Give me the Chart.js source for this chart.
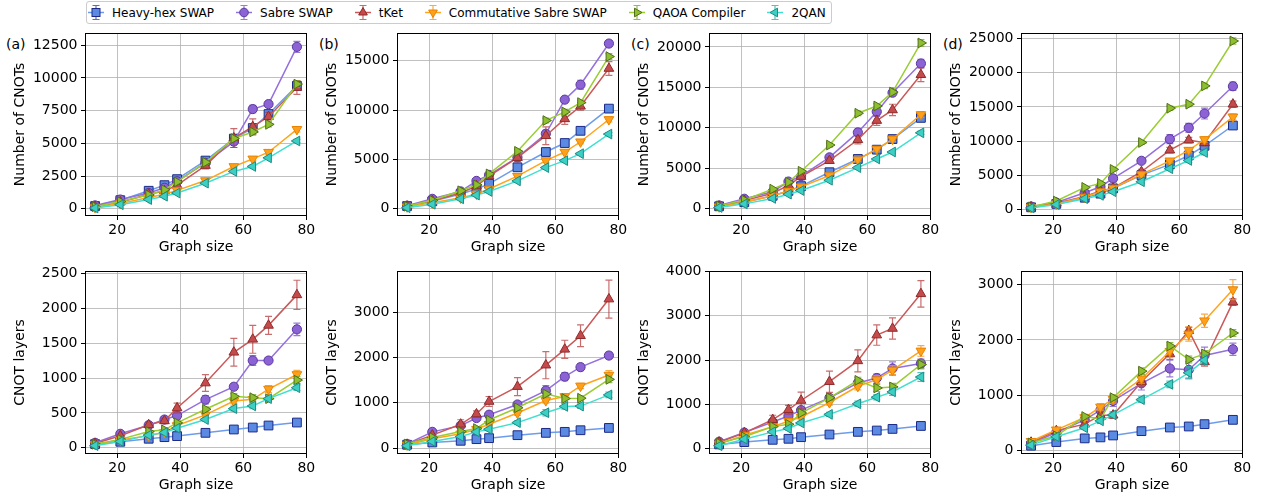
<!DOCTYPE html>
<html>
<head>
<meta charset="utf-8">
<script src="https://cdn.jsdelivr.net/npm/chart.js@4.4.1/dist/chart.umd.min.js"></script>
<style>
  body { margin: 0; background: #fff; width: 1268px; height: 503px; overflow: hidden; position: relative;
         font-family: "DejaVu Sans", sans-serif; color: #000; }
  .panel { position: absolute; width: 323px; height: 240px; }
  .tag { position: absolute; font-size: 14px; line-height: 14px; }
  #legend { position: absolute; left: 86px; top: 1px; height: 23px; box-sizing: border-box;
            border: 1px solid #cccccc; border-radius: 3px; background: #fff;
            display: flex; align-items: center; padding: 0 5px 0 1px; font-size: 12px; white-space: nowrap; }
  .item { display: flex; align-items: center; margin-right: 22px; }
  .item:last-child { margin-right: 0; }
  .item svg { margin-right: 8px; }
</style>
</head>
<body>
<div id="legend"></div>

<div class="tag" style="left:6px;top:37px">(a)</div>
<div class="tag" style="left:319px;top:37px">(b)</div>
<div class="tag" style="left:631px;top:37px">(c)</div>
<div class="tag" style="left:943px;top:37px">(d)</div>

<div class="panel" style="left:0px;top:21px"><canvas id="cA" width="323" height="240"></canvas></div>
<div class="panel" style="left:312px;top:21px"><canvas id="cB" width="323" height="240"></canvas></div>
<div class="panel" style="left:624px;top:21px"><canvas id="cC" width="323" height="240"></canvas></div>
<div class="panel" style="left:936px;top:21px"><canvas id="cD" width="323" height="240"></canvas></div>
<div class="panel" style="left:0px;top:259px"><canvas id="lA" width="323" height="240"></canvas></div>
<div class="panel" style="left:312px;top:259px"><canvas id="lB" width="323" height="240"></canvas></div>
<div class="panel" style="left:624px;top:259px"><canvas id="lC" width="323" height="240"></canvas></div>
<div class="panel" style="left:936px;top:259px"><canvas id="lD" width="323" height="240"></canvas></div>

<script>
// ── DATA ───────────────────────────────────────────────────────────────────
// series order: Heavy-hex SWAP, Sabre SWAP, tKet, Commutative Sabre SWAP, QAOA Compiler, 2QAN

const GRAPH_SIZES = [13, 21, 30, 35, 39, 48, 57, 63, 68, 77];
const X_TICKS = [20, 40, 60, 80];

const cnotsA = [
  [200, 650, 1370, 1800, 2260, 3680, 5360, 6170, 7240, 9400],
  [250, 700, 1200, 1600, 2100, 3500, 5130, 7620, 8000, 12380],
  [150, 500, 1100, 1350, 1800, 3300, 5400, 6270, 7040, 9270],
  [100, 400, 850, 1100, 1400, 2150, 3230, 3810, 4320, 6070],
  [150, 550, 1050, 1450, 2050, 3550, 5360, 5870, 6450, 9530],
  [50, 300, 700, 950, 1200, 1950, 2850, 3230, 3890, 5180],
];
const cnotsAErr = [
  [30, 60, 90, 110, 120, 160, 200, 220, 250, 300],
  [40, 80, 120, 150, 180, 220, 450, 280, 220, 420],
  [40, 80, 130, 160, 200, 250, 720, 600, 330, 520],
  [20, 40, 60, 70, 80, 100, 120, 130, 150, 200],
  [30, 50, 80, 100, 120, 160, 200, 220, 200, 250],
  [10, 30, 50, 60, 70, 90, 100, 110, 120, 120],
];

const cnotsB = [
  [270, 750, 1500, 2000, 2520, 4200, 5750, 6660, 7900, 10150],
  [300, 1000, 1750, 2820, 3430, 5210, 7600, 11060, 12580, 16750],
  [250, 800, 1600, 2300, 3300, 5180, 7400, 9110, 10390, 14220],
  [200, 600, 1100, 1500, 2000, 3300, 4880, 5750, 6790, 9050],
  [250, 850, 1820, 2420, 3530, 5820, 8940, 9820, 10760, 15430],
  [100, 450, 1000, 1380, 1750, 2820, 4170, 4880, 5580, 7570],
];
const cnotsBErr = [
  [30, 60, 100, 120, 150, 200, 250, 250, 250, 300],
  [40, 80, 150, 220, 200, 250, 350, 300, 450, 300],
  [40, 80, 150, 200, 250, 400, 900, 550, 400, 700],
  [20, 40, 60, 80, 100, 150, 200, 200, 200, 250],
  [30, 60, 100, 120, 150, 200, 250, 250, 250, 300],
  [10, 30, 50, 60, 80, 100, 120, 120, 120, 150],
];

const cnotsC = [
  [300, 800, 1600, 2200, 2790, 4510, 6150, 7300, 8610, 11230],
  [400, 1230, 2100, 3360, 4020, 6350, 9430, 12000, 14340, 17950],
  [300, 1000, 1900, 2900, 3980, 5940, 8520, 10900, 12210, 16560],
  [250, 800, 1600, 2200, 2700, 4100, 6060, 7380, 8610, 11640],
  [350, 1070, 2420, 3280, 4630, 7870, 11800, 12700, 14420, 20490],
  [150, 600, 1270, 1800, 2250, 3520, 5080, 6150, 7010, 9380],
];
const cnotsCErr = [
  [40, 80, 120, 150, 180, 250, 300, 300, 350, 400],
  [50, 100, 180, 220, 250, 300, 400, 600, 400, 500],
  [50, 100, 180, 250, 300, 350, 500, 600, 700, 850],
  [30, 60, 100, 130, 150, 200, 250, 250, 300, 350],
  [40, 80, 120, 150, 180, 250, 300, 300, 350, 400],
  [20, 40, 70, 80, 100, 130, 150, 150, 180, 200],
];

const cnotsD = [
  [300, 800, 1700, 2300, 3070, 5020, 6580, 7890, 9310, 12280],
  [400, 1000, 2440, 3310, 4530, 7110, 10280, 11940, 14030, 18030],
  [350, 900, 1900, 2700, 3100, 5510, 8670, 10140, 9750, 15400],
  [300, 800, 1800, 2600, 3120, 5120, 7110, 8670, 10230, 13550],
  [350, 1220, 3220, 3800, 5850, 9790, 14810, 15400, 18080, 24660],
  [200, 700, 1560, 2050, 2580, 4040, 5950, 7160, 8330, null],
];
const cnotsDErr = [
  [40, 80, 130, 160, 200, 250, 300, 350, 400, 450],
  [50, 100, 200, 250, 300, 350, 650, 650, 800, 600],
  [50, 100, 200, 250, 300, 350, 400, 400, 450, 450],
  [40, 80, 130, 160, 200, 250, 300, 350, 400, 450],
  [40, 80, 130, 160, 200, 250, 300, 350, 400, 450],
  [30, 60, 100, 120, 150, 200, 250, 300, 350, null],
];

const layersA = [
  [52, 86, 129, 152, 167, 214, 262, 290, 319, 362],
  [71, 200, 324, 405, 462, 690, 876, 1252, 1252, 1700],
  [60, 171, 329, 386, 571, 929, 1371, 1557, 1757, 2195],
  [50, 110, 171, 220, 319, 471, 671, 695, 843, 1052],
  [50, 120, 233, 257, 357, 552, 738, 719, 705, 971],
  [30, 90, 181, 219, 281, 405, 562, 600, 705, 862],
];
const layersAErr = [
  [3, 5, 8, 9, 10, 12, 15, 16, 18, 20],
  [8, 20, 30, 30, 40, 60, 40, 70, 40, 90],
  [8, 20, 40, 40, 70, 120, 200, 200, 130, 210],
  [5, 10, 15, 20, 25, 35, 40, 50, 50, 60],
  [5, 10, 15, 20, 25, 35, 40, 45, 40, 50],
  [3, 8, 12, 15, 20, 25, 35, 40, 30, 40],
];

const layersB = [
  [73, 124, 161, 197, 219, 285, 336, 358, 394, 445],
  [90, 358, 496, 664, 737, 963, 1270, 1577, 1788, 2044],
  [80, 285, 526, 752, 1029, 1358, 1832, 2182, 2482, 3292],
  [70, 204, 314, 416, 526, 774, 1051, 1139, 1372, 1613],
  [90, 234, 365, 431, 620, 890, 1197, 1095, 1102, 1518],
  [50, 146, 255, 358, 416, 562, 781, 920, 927, 1175],
];
const layersBErr = [
  [4, 6, 10, 12, 14, 16, 18, 20, 22, 24],
  [10, 25, 35, 40, 40, 50, 110, 90, 80, 70],
  [10, 30, 100, 70, 110, 200, 300, 200, 240, 420],
  [6, 15, 20, 25, 35, 50, 60, 60, 60, 100],
  [8, 15, 20, 30, 35, 50, 60, 60, 50, 70],
  [5, 10, 15, 25, 30, 40, 70, 60, 50, 60],
];

const layersC = [
  [90, 142, 194, 217, 254, 314, 374, 404, 441, 508],
  [150, 359, 598, 733, 867, 1144, 1480, 1593, 1809, 1922],
  [140, 351, 650, 875, 1084, 1510, 1981, 2565, 2714, 3499],
  [100, 299, 493, 613, 710, 1039, 1406, 1555, 1772, 2206],
  [120, 262, 493, 546, 800, 1144, 1540, 1368, 1391, 1899],
  [60, 209, 374, 449, 576, 770, 1009, 1159, 1279, 1615],
];
const layersCErr = [
  [5, 8, 12, 14, 16, 20, 22, 24, 26, 30],
  [15, 30, 50, 50, 60, 70, 80, 90, 150, 100],
  [20, 40, 100, 100, 190, 240, 250, 230, 240, 300],
  [10, 20, 35, 40, 50, 60, 80, 90, 100, 120],
  [10, 20, 30, 40, 50, 60, 70, 80, 80, 100],
  [8, 15, 25, 30, 40, 45, 60, 60, 80, 100],
];

const layersD = [
  [90, 156, 222, 240, 275, 353, 419, 437, 479, 557],
  [130, 329, 557, 731, 898, 1216, 1485, 1461, 1719, 1832],
  [150, 359, 479, 641, 641, 1246, 1749, 2168, 1605, 2683],
  [170, 377, 599, 790, 928, 1299, 1796, 2108, 2347, 2910],
  [140, 269, 617, 575, 958, 1437, 1892, 1647, 1749, 2126],
  [100, 251, 413, 539, 647, 922, 1198, 1407, 1635, null],
];
const layersDErr = [
  [5, 8, 12, 14, 16, 20, 22, 24, 26, 30],
  [15, 30, 50, 60, 100, 120, 150, 150, 150, 110],
  [15, 30, 50, 60, 60, 80, 100, 60, 80, 60],
  [15, 30, 50, 60, 70, 90, 110, 130, 120, 180],
  [10, 20, 40, 40, 50, 60, 60, 60, 60, 60],
  [10, 20, 30, 40, 40, 50, 60, 110, 90, null],
];

// y tick values per panel
const TICKS_CNOTS_A = [0, 2500, 5000, 7500, 10000, 12500];
const TICKS_CNOTS_B = [0, 5000, 10000, 15000];
const TICKS_CNOTS_C = [0, 5000, 10000, 15000, 20000];
const TICKS_CNOTS_D = [0, 5000, 10000, 15000, 20000, 25000];
const TICKS_LAYERS_A = [0, 500, 1000, 1500, 2000, 2500];
const TICKS_LAYERS_B = [0, 1000, 2000, 3000];
const TICKS_LAYERS_C = [0, 1000, 2000, 3000, 4000];
const TICKS_LAYERS_D = [0, 1000, 2000, 3000];

// ── STYLE ──────────────────────────────────────────────────────────────────

const SERIES = [
  { label: 'Heavy-hex SWAP',         line: '#6e9cec', fill: '#5b8ae2', edge: '#1c2a86', err: 'rgba(40,60,160,0.75)',  shape: 'rect',     rot: 0,   r: 6.2 },
  { label: 'Sabre SWAP',             line: '#9470de', fill: '#8c63d4', edge: '#5a389e', err: 'rgba(120,80,200,0.75)', shape: 'circle',   rot: 0,   r: 4.6 },
  { label: 'tKet',                   line: '#cb5858', fill: '#c44a4c', edge: '#8e2b2b', err: 'rgba(180,60,60,0.75)',  shape: 'triangle', rot: 0,   r: 5.6 },
  { label: 'Commutative Sabre SWAP', line: '#ffa41b', fill: '#ffa01a', edge: '#e88400', err: 'rgba(245,150,20,0.8)',  shape: 'triangle', rot: 180, r: 5.6 },
  { label: 'QAOA Compiler',          line: '#9acd32', fill: '#8ebf2e', edge: '#506e1a', err: 'rgba(120,170,40,0.8)',  shape: 'triangle', rot: 90,  r: 5.6 },
  { label: '2QAN',                   line: '#40e0d0', fill: '#3ccfc4', edge: '#1d8c86', err: 'rgba(40,180,170,0.8)',  shape: 'triangle', rot: 270, r: 5.6 },
];

const X_MIN = 9.8, X_MAX = 80.2;
const FONT = { family: 'DejaVu Sans', size: 14 };

Chart.defaults.font.family = 'DejaVu Sans';
Chart.defaults.color = '#000';

// ── PLUGINS ────────────────────────────────────────────────────────────────

// Vertical error bars with caps, drawn just under each series
const errorBars = {
  id: 'errorBars',
  beforeDatasetDraw(chart, args) {
    const ds = chart.data.datasets[args.index];
    if (!ds.errors) return;
    const { ctx } = chart;
    const ys = chart.scales.y;
    ctx.save();
    ctx.strokeStyle = ds.errColor;
    ctx.lineWidth = 1.2;
    args.meta.data.forEach((pt, i) => {
      const v = ds.data[i].y;
      const e = ds.errors[i];
      if (v == null || !e) return;
      const x = pt.x;
      const y1 = ys.getPixelForValue(v - e);
      const y2 = ys.getPixelForValue(v + e);
      ctx.beginPath();
      ctx.moveTo(x, y1); ctx.lineTo(x, y2);
      ctx.moveTo(x - 3.5, y1); ctx.lineTo(x + 3.5, y1);
      ctx.moveTo(x - 3.5, y2); ctx.lineTo(x + 3.5, y2);
      ctx.stroke();
    });
    ctx.restore();
  },
};

// Black box round the plot area
const frame = {
  id: 'frame',
  afterDatasetsDraw(chart) {
    const { ctx, chartArea: a } = chart;
    ctx.save();
    ctx.strokeStyle = '#000';
    ctx.lineWidth = 1;
    ctx.strokeRect(Math.round(a.left) + 0.5, Math.round(a.top) + 0.5,
                   Math.round(a.width) - 1, Math.round(a.height) - 1);
    ctx.restore();
  },
};

// ── PANELS ─────────────────────────────────────────────────────────────────

function buildPanel(id, rows, errs, yMin, yMax, yTicks, yTitle) {
  const datasets = SERIES.map((s, k) => ({
    label: s.label,
    data: GRAPH_SIZES.map((x, i) => ({ x, y: rows[k][i] })),
    errors: errs[k],
    errColor: s.err,
    borderColor: s.line,
    borderWidth: 1.5,
    backgroundColor: s.fill,
    pointBackgroundColor: s.fill,
    pointBorderColor: s.edge,
    pointBorderWidth: 1,
    pointStyle: s.shape,
    pointRotation: s.rot,
    pointRadius: s.r,
    tension: 0,
    order: SERIES.length - k,
  }));

  new Chart(document.getElementById(id), {
    type: 'line',
    data: { datasets },
    plugins: [errorBars, frame],
    options: {
      responsive: false,
      animation: false,
      events: [],
      devicePixelRatio: 1,
      layout: { padding: { top: 12, right: 16, left: 0, bottom: 0 } },
      plugins: { legend: { display: false }, tooltip: { enabled: false } },
      scales: {
        x: {
          type: 'linear',
          min: X_MIN, max: X_MAX,
          afterBuildTicks: sc => { sc.ticks = X_TICKS.map(v => ({ value: v })); },
          afterFit: sc => { sc.height = 45; },
          ticks: { color: '#000', font: FONT, padding: 2, maxRotation: 0, autoSkip: false, callback: v => String(v) },
          grid: { color: '#b0b0b0', lineWidth: 0.8, tickColor: '#000', tickLength: 4, tickWidth: 1 },
          border: { display: false },
          title: { display: true, text: 'Graph size', color: '#000', font: FONT, padding: { top: 0, bottom: 5 } },
        },
        y: {
          type: 'linear',
          min: yMin, max: yMax,
          afterBuildTicks: sc => { sc.ticks = yTicks.map(v => ({ value: v })); },
          afterFit: sc => { sc.width = 85; },
          ticks: { color: '#000', font: FONT, padding: 3.5, autoSkip: false, callback: v => String(v) },
          grid: { color: '#b0b0b0', lineWidth: 0.8, tickColor: '#000', tickLength: 4, tickWidth: 1 },
          border: { display: false },
          title: { display: true, text: yTitle, color: '#000', font: FONT, padding: { top: 12, bottom: 0 } },
        },
      },
    },
  });
}

buildPanel('cA', cnotsA, cnotsAErr, -560, 13440, TICKS_CNOTS_A, 'Number of CNOTs');
buildPanel('cB', cnotsB, cnotsBErr, -740, 17820, TICKS_CNOTS_B, 'Number of CNOTs');
buildPanel('cC', cnotsC, cnotsCErr, -900, 21720, TICKS_CNOTS_C, 'Number of CNOTs');
buildPanel('cD', cnotsD, cnotsDErr, -975, 25830, TICKS_CNOTS_D, 'Number of CNOTs');
buildPanel('lA', layersA, layersAErr, -90, 2538, TICKS_LAYERS_A, 'CNOT layers');
buildPanel('lB', layersB, layersBErr, -131, 3912, TICKS_LAYERS_B, 'CNOT layers');
buildPanel('lC', layersC, layersCErr, -127, 4015, TICKS_LAYERS_C, 'CNOT layers');
buildPanel('lD', layersD, layersDErr, -60, 3246, TICKS_LAYERS_D, 'CNOT layers');

// ── SHARED LEGEND ──────────────────────────────────────────────────────────

function markerSvg(s) {
  const c = 8, mid = 11.5;
  let shape;
  if (s.shape === 'rect') {
    shape = `<rect x="${c - 4}" y="${mid - 4}" width="8" height="8"`;
  } else if (s.shape === 'circle') {
    shape = `<circle cx="${c}" cy="${mid}" r="4.3"`;
  } else {
    const pts = [0, 120, 240].map(a => {
      const rad = (a + s.rot) * Math.PI / 180;
      return `${(c + Math.sin(rad) * 5).toFixed(2)},${(mid - Math.cos(rad) * 5).toFixed(2)}`;
    }).join(' ');
    shape = `<polygon points="${pts}"`;
  }
  return `<svg width="16" height="23" viewBox="0 0 16 23">
    <line x1="0" y1="${mid}" x2="16" y2="${mid}" stroke="${s.line}" stroke-width="1.5"/>
    <path d="M${c} ${mid - 7}V${mid + 7}M${c - 3.5} ${mid - 7}H${c + 3.5}M${c - 3.5} ${mid + 7}H${c + 3.5}"
          stroke="${s.err}" stroke-width="1.2" fill="none"/>
    ${shape} fill="${s.fill}" stroke="${s.edge}" stroke-width="1"/>
  </svg>`;
}

const legendEl = document.getElementById('legend');
SERIES.forEach(s => {
  const item = document.createElement('div');
  item.className = 'item';
  item.innerHTML = `${markerSvg(s)}<span>${s.label}</span>`;
  legendEl.appendChild(item);
});
</script>
</body>
</html>
